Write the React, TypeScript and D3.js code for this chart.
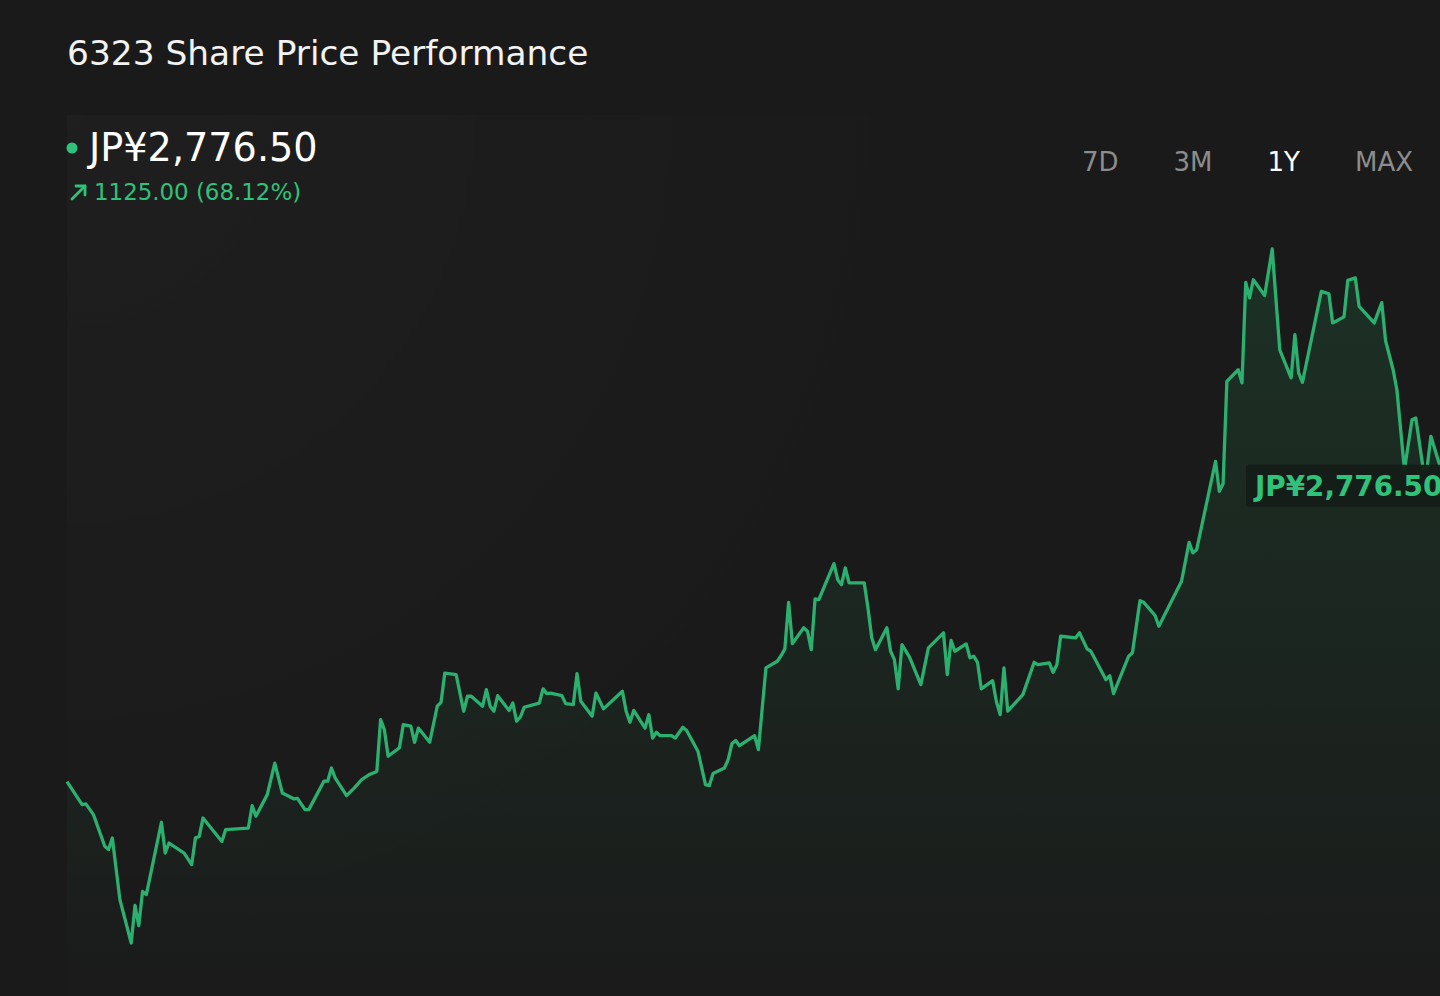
import { useEffect, useRef } from 'react';
import * as d3 from 'd3';

// trading day index within the 1Y window, and the close on that day
const tradingDays = [
  0, 4, 5, 7, 10, 11, 12, 14, 17, 18, 19, 20, 21, 25, 26, 27, 31, 33, 34, 35, 36, 41, 42, 48, 49, 50,
  53, 55, 57, 60, 61, 63, 64, 68, 69, 70, 71, 74, 76, 78, 80, 82, 83, 84, 85, 88, 89, 91, 92, 93, 96,
  98, 99, 100, 103, 105, 106, 107, 110, 111, 112, 113, 114, 117, 118, 119, 120, 121, 125, 126, 127,
  128, 131, 132, 134, 135, 136, 139, 140, 142, 147, 148, 149, 150, 153, 154, 155, 156, 157, 160, 161,
  163, 164, 167, 169, 170, 171, 174, 175, 176, 177, 178, 182, 183, 185, 188, 189, 190, 191, 192, 195,
  196, 197, 198, 199, 203, 204, 205, 206, 207, 211, 212, 213, 214, 217, 218, 219, 220, 221, 223, 226,
  228, 232, 233, 234, 235, 238, 239, 240, 241, 242, 245, 246, 247, 248, 249, 253, 256, 257, 260, 261,
  262, 263, 267, 268, 270, 271, 275, 276, 277, 281, 282, 284, 285, 288, 289, 295, 297, 298, 299, 304,
  305, 306, 307, 310, 311, 312, 313, 314, 317, 319, 321, 324, 325, 326, 327, 332, 334, 335, 338, 339,
  341, 342, 346, 348, 349, 351, 352, 354, 356, 357, 359, 360, 361, 365,
];

const closes = [
  1651.5, 1564, 1567, 1526, 1406, 1393, 1437, 1203, 1038, 1181, 1104, 1234, 1222, 1497, 1380, 1418, 1380, 1336, 1438, 1443, 1513, 1424, 1469, 1475, 1560, 1520,
  1602, 1722, 1608, 1586, 1588, 1545, 1545, 1653, 1653, 1703, 1665, 1598, 1627, 1659, 1678, 1690, 1887, 1849, 1748, 1780, 1868, 1862, 1801, 1855, 1801,
  1938, 1953, 2064, 2058, 1919, 1976, 1976, 1938, 2001, 1938, 1919, 1978, 1922, 1950, 1881, 1897, 1934, 1950, 2004, 1986,
  1988, 1978, 1948, 1944, 2062, 1957, 1900, 1988, 1928, 1995, 1919, 1877, 1922, 1855, 1906, 1817, 1839, 1826, 1826, 1817,
  1858, 1846, 1767, 1640, 1636, 1682, 1703, 1735, 1796, 1808, 1788, 1826, 1773, 2084, 2109, 2130, 2156, 2333, 2176, 2236,
  2223, 2153, 2346, 2343, 2480, 2419, 2400, 2464, 2407, 2407, 2312, 2198, 2153, 2236, 2147, 2115, 2004, 2172, 2125, 2020,
  2160, 2217, 2058, 2188, 2147, 2175, 2122, 2128, 2105, 2004, 2035, 1955, 1906, 2084, 1919, 1982, 2105, 2096, 2103, 2067,
  2096, 2204, 2198, 2217, 2156, 2147, 2039, 2054, 1986, 2128, 2141, 2339, 2333, 2283, 2242, 2413, 2561, 2521, 2533, 2869,
  2755, 2784, 3173, 3217, 3167, 3549, 3490, 3559, 3499, 3676, 3293, 3186, 3350, 3205, 3169, 3515, 3506, 3395, 3418, 3557,
  3566, 3458, 3395, 3472, 3328, 3217, 3141, 2837, 3027, 3034, 2837, 2845, 2964, 2776.5,
];

const ticker = '6323';
const currency = 'JP¥';
const ranges = ['7D', '3M', '1Y', 'MAX'];
const activeRange = '1Y';

const WIDTH = 1440;
const HEIGHT = 996;
const GREEN = '#2fc27a';
const LINE = '#2cb06f';
const BG = '#1a1a1a';
const FONT = '"DejaVu Sans", sans-serif';

export default function App() {
  const svgRef = useRef<SVGSVGElement>(null);

  useEffect(() => {
    if (!svgRef.current) return;
    const svg = d3.select(svgRef.current);
    svg.selectAll('*').remove();

    const data = tradingDays.map((d, i) => ({ day: d, close: closes[i] }));
    const first = data[0].close;
    const last = data[data.length - 1].close;
    const change = last - first;
    const pct = (change / first) * 100;

    const xScale = d3.scaleLinear()
      .domain(d3.extent(tradingDays) as [number, number])
      .range([67, 1446]);
    const yScale = d3.scaleLinear()
      .domain(d3.extent(closes) as [number, number])
      .range([943, 249]);

    const defs = svg.append('defs');

    // faint panel glow behind the chart
    const glow = defs.append('radialGradient')
      .attr('id', 'panelGlow')
      .attr('gradientUnits', 'userSpaceOnUse')
      .attr('cx', 67).attr('cy', 115).attr('r', 900);
    glow.append('stop').attr('offset', '0%').attr('stop-color', '#ffffff').attr('stop-opacity', 0.02);
    glow.append('stop').attr('offset', '100%').attr('stop-color', '#ffffff').attr('stop-opacity', 0);

    const areaGrad = defs.append('linearGradient')
      .attr('id', 'areaFill')
      .attr('gradientUnits', 'userSpaceOnUse')
      .attr('x1', 0).attr('y1', yScale(d3.max(closes) as number))
      .attr('x2', 0).attr('y2', HEIGHT);
    areaGrad.append('stop').attr('offset', '0%').attr('stop-color', '#2ecc71').attr('stop-opacity', 0.13);
    areaGrad.append('stop').attr('offset', '100%').attr('stop-color', '#2ecc71').attr('stop-opacity', 0.005);

    svg.append('rect')
      .attr('width', WIDTH).attr('height', HEIGHT)
      .attr('fill', BG);

    svg.append('rect')
      .attr('x', 67).attr('y', 115)
      .attr('width', WIDTH - 67).attr('height', 760)
      .attr('fill', 'url(#panelGlow)');

    // Title
    svg.append('text')
      .attr('x', 67).attr('y', 65)
      .attr('font-family', FONT).attr('font-size', 34.4)
      .attr('fill', '#f2f2f2')
      .text(`${ticker} Share Price Performance`);

    // Current price header
    svg.append('circle')
      .attr('cx', 72).attr('cy', 148).attr('r', 5.5)
      .attr('fill', GREEN);
    svg.append('text')
      .attr('x', 89).attr('y', 161)
      .attr('font-family', FONT).attr('font-size', 38.2)
      .attr('fill', '#ffffff')
      .text(`${currency}${d3.format(',.2f')(last)}`);

    // change arrow + text
    const arrow = svg.append('g')
      .attr('stroke', GREEN).attr('stroke-width', 2.8)
      .attr('fill', 'none').attr('stroke-linecap', 'round').attr('stroke-linejoin', 'round');
    arrow.append('path').attr('d', 'M72,199 L85,186');
    arrow.append('path').attr('d', 'M76,186 L85,186 L85,195');
    svg.append('text')
      .attr('x', 94).attr('y', 200)
      .attr('font-family', FONT).attr('font-size', 22.9)
      .attr('fill', GREEN)
      .text(`${d3.format('.2f')(change)} (${d3.format('.2f')(pct)}%)`);

    // Range buttons, laid out right to left
    let right = 1413;
    const btnGroup = svg.append('g');
    [...ranges].reverse().forEach(r => {
      const t = btnGroup.append('text')
        .attr('y', 171)
        .attr('font-family', FONT).attr('font-size', 26)
        .attr('fill', r === activeRange ? '#ffffff' : '#8c8c8c')
        .text(r);
      const w = (t.node() as SVGTextElement).getComputedTextLength();
      t.attr('x', right - w);
      right -= w + 55;
    });

    // Area + line
    const area = d3.area<{ day: number; close: number }>()
      .x(d => xScale(d.day))
      .y0(HEIGHT)
      .y1(d => yScale(d.close));
    const line = d3.line<{ day: number; close: number }>()
      .x(d => xScale(d.day))
      .y(d => yScale(d.close));

    svg.append('path')
      .datum(data)
      .attr('d', area)
      .attr('fill', 'url(#areaFill)');

    svg.append('path')
      .datum(data)
      .attr('d', line)
      .attr('fill', 'none')
      .attr('stroke', LINE)
      .attr('stroke-width', 3.3)
      .attr('stroke-linejoin', 'round');

    // Last price tag
    const ly = yScale(last);
    const tag = svg.append('g');
    const tagRect = tag.append('rect')
      .attr('x', 1246).attr('y', ly - 21)
      .attr('height', 42).attr('rx', 3)
      .attr('fill', '#151c18').attr('fill-opacity', 0.95);
    const tagText = tag.append('text')
      .attr('x', 1255).attr('y', ly + 10)
      .attr('font-family', FONT).attr('font-size', 27.8).attr('font-weight', 'bold')
      .attr('fill', GREEN)
      .text(`${currency}${d3.format(',.2f')(last)}`);
    const tw = (tagText.node() as SVGTextElement).getComputedTextLength();
    tagRect.attr('width', tw + 18);
  }, []);

  return (
    <svg
      ref={svgRef}
      width={WIDTH}
      height={HEIGHT}
      style={{ position: 'fixed', left: 0, top: 0, display: 'block', background: BG }}
    />
  );
}
